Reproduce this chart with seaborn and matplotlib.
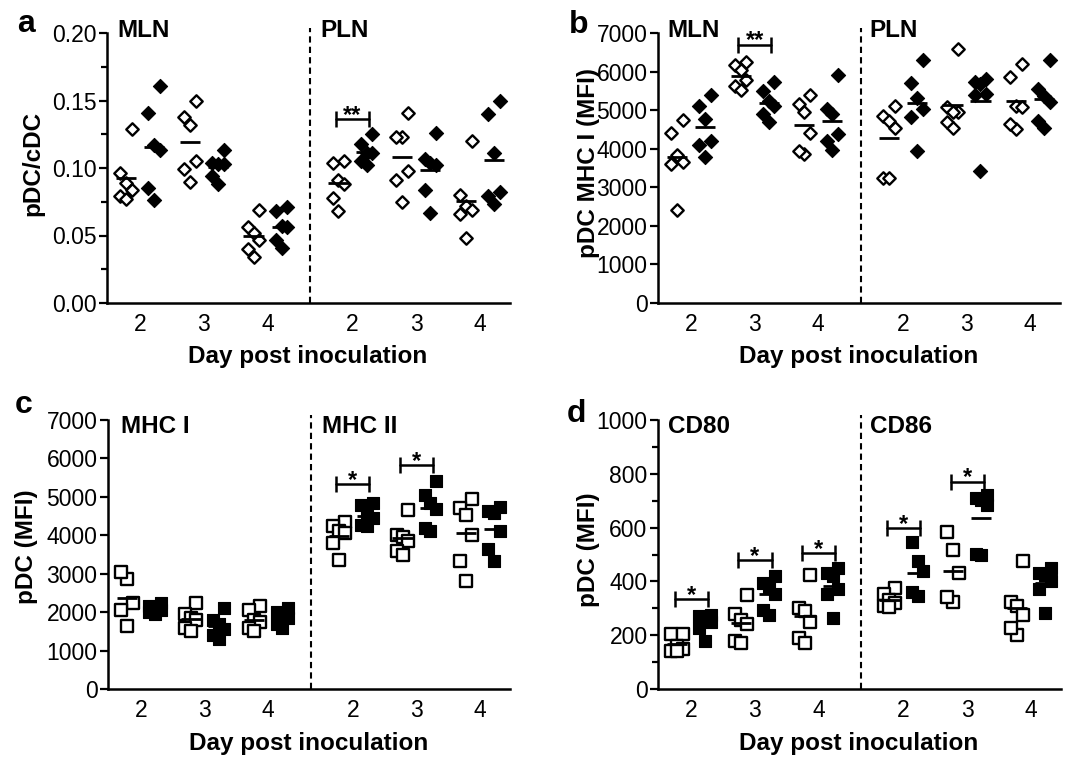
import numpy as np
import pandas as pd
import matplotlib
matplotlib.use('Agg')
import matplotlib.pyplot as plt
import matplotlib.transforms as mtrans
from matplotlib.ticker import MultipleLocator, FormatStrFormatter
import seaborn as sns

sns.set_theme(style='ticks')
plt.rcParams['font.family'] = ['Liberation Sans', 'DejaVu Sans']
plt.rcParams.update({'text.color': 'black', 'axes.labelcolor': 'black',
                     'xtick.color': 'black', 'ytick.color': 'black',
                     'axes.edgecolor': 'black'})

# ---------------- data ----------------
DAY_LABELS = ['2', '3', '4']

# panel a: pDC/cDC
A_TITLES = ['MLN', 'PLN']
A_MLN_OPEN = [[0.096, 0.129, 0.089, 0.084, 0.079, 0.077],
              [0.150, 0.138, 0.132, 0.105, 0.099, 0.090],
              [0.069, 0.056, 0.052, 0.047, 0.040, 0.034]]
A_MLN_FILL = [[0.161, 0.141, 0.117, 0.113, 0.085, 0.076],
              [0.113, 0.104, 0.103, 0.103, 0.094, 0.088],
              [0.071, 0.068, 0.057, 0.056, 0.047, 0.041]]
A_PLN_OPEN = [[0.105, 0.1035, 0.091, 0.088, 0.078, 0.068],
              [0.141, 0.123, 0.123, 0.098, 0.091, 0.075],
              [0.120, 0.080, 0.072, 0.069, 0.066, 0.048]]
A_PLN_FILL = [[0.125, 0.118, 0.111, 0.111, 0.105, 0.102],
              [0.126, 0.107, 0.104, 0.102, 0.084, 0.067],
              [0.150, 0.140, 0.111, 0.082, 0.079, 0.073]]
A_SIG = [(3, 0.136, '**')]

# panel b: pDC MHC I (MFI)
B_TITLES = ['MLN', 'PLN']
B_MLN_OPEN = [[4400, 4750, 3850, 3650, 3600, 2400],
              [6240, 6170, 6030, 5770, 5620, 5510],
              [5400, 5160, 4960, 4400, 3870, 3930]]
B_MLN_FILL = [[5380, 5110, 4780, 4190, 4100, 3780],
              [5730, 5500, 5250, 5100, 4900, 4700],
              [5920, 5030, 4900, 4370, 4190, 3970]]
B_PLN_OPEN = [[5110, 4850, 4720, 4540, 3230, 3230],
              [6590, 4940, 5070, 4960, 4690, 4540],
              [6200, 5860, 5100, 5070, 4500, 4630]]
B_PLN_FILL = [[6300, 5710, 5310, 5040, 4830, 3950],
              [5730, 5820, 5680, 5420, 5380, 3430],
              [6300, 5540, 5360, 5200, 4720, 4540]]
B_SIG = [(1, 6700, '**')]

# panel c: pDC (MFI), MHC I / MHC II
C_TITLES = ['MHC I', 'MHC II']
C_I_OPEN = [[2850, 3050, 2250, 2050, 1650],
            [2250, 1950, 1850, 1800, 1600, 1500],
            [2150, 2050, 1800, 1750, 1600, 1500]]
C_I_FILL = [[2250, 2150, 2100, 2050, 2000, 1950],
            [2100, 1800, 1700, 1550, 1400, 1300],
            [2100, 2000, 1950, 1850, 1700, 1600]]
C_II_OPEN = [[4350, 4250, 4100, 4050, 3800, 3350],
             [4650, 4000, 3950, 3850, 3600, 3500],
             [4940, 4700, 4530, 4010, 3320, 2820]]
C_II_FILL = [[4830, 4790, 4490, 4440, 4270, 4230],
             [5400, 5050, 4830, 4680, 4120, 4180],
             [4730, 4620, 4570, 4100, 3640, 3320]]
C_SIG = [(3, 5330, '*'), (4, 5830, '*')]

# panel d: pDC (MFI), CD80 / CD86
D_TITLES = ['CD80', 'CD86']
D_80_OPEN = [[205, 205, 160, 150, 140, 140],
             [350, 280, 255, 240, 180, 170],
             [425, 300, 290, 250, 190, 170]]
D_80_FILL = [[275, 270, 260, 250, 225, 180],
             [420, 395, 375, 355, 275, 295],
             [450, 430, 420, 370, 355, 265]]
D_86_OPEN = [[375, 355, 330, 320, 310, 305],
             [585, 517, 433, 325, 342],
             [474, 322, 307, 276, 202, 226]]
D_86_FILL = [[545, 475, 440, 360, 345],
             [722, 709, 703, 684, 499, 502],
             [449, 431, 424, 400, 371, 282]]
D_SIG = [(0, 335, '*'), (1, 480, '*'), (2, 505, '*'), (3, 598, '*'), (4, 771, '*')]

# ---------------- layout ----------------
W, H = 1068, 757
POS = [[0.0, 1.0, 2.0], [3.33, 4.33, 5.33]]
FLAT_POS = POS[0] + POS[1]
DIV = 2.67
XLIM = (-0.52, 5.8)
GROUP_OFF = 0.22
JIT = np.array([0.0, -0.09, 0.09])
TICK_FS = 16.5
LAB_FS = 17.5

fig = plt.figure(figsize=(W / 100, H / 100), dpi=100)


def add_axes_px(l, t, r, b):
    return fig.add_axes([l / W, 1 - b / H, (r - l) / W, (b - t) / H])


def build_df(regions):
    rows = []
    for r, (op, fi) in enumerate(regions):
        for d in range(3):
            for grp, vals in (('open', op[d]), ('fill', fi[d])):
                ranks = np.argsort(np.argsort(vals))
                for v, rk in zip(vals, ranks):
                    rows.append(dict(region=r, day=d, group=grp, value=v,
                                     pos=POS[r][d], rank=int(rk)))
    df = pd.DataFrame(rows)
    df['cx'] = df['pos'] + np.where(df['group'] == 'open', -GROUP_OFF, GROUP_OFF)
    df['x'] = df['cx'] + JIT[df['rank'] % 3]
    return df


def draw_panel(ax, df, marker, s_open, s_fill, ylim, ystep, yfmt, minor,
               titles, title_y, title_x, sigs):
    op = df[df['group'] == 'open']
    fi = df[df['group'] == 'fill']
    sns.scatterplot(data=op, x='x', y='value', marker=marker, s=s_open,
                    color='white', edgecolor='black', linewidth=1.7,
                    ax=ax, legend=False, zorder=3, clip_on=False)
    sns.scatterplot(data=fi, x='x', y='value', marker=marker, s=s_fill,
                    color='black', edgecolor='black', linewidth=0.8,
                    ax=ax, legend=False, zorder=3, clip_on=False)
    means = df.groupby(['cx', 'group'])['value'].mean().reset_index()
    ax.hlines(means['value'], means['cx'] - 0.16, means['cx'] + 0.16,
              color='black', lw=2, zorder=4)

    ax.set_xlim(*XLIM)
    ax.set_ylim(*ylim)
    ax.set_xticks(FLAT_POS)
    ax.set_xticklabels(DAY_LABELS * 2)
    ax.yaxis.set_major_locator(MultipleLocator(ystep))
    ax.yaxis.set_major_formatter(FormatStrFormatter(yfmt))
    if minor:
        ax.yaxis.set_minor_locator(MultipleLocator(minor))
    ax.tick_params(axis='x', length=0, pad=7, labelsize=TICK_FS)
    ax.tick_params(axis='y', which='major', length=6, width=1.6, pad=1.5,
                   labelsize=TICK_FS, direction='out')
    ax.tick_params(axis='y', which='minor', length=4, width=1.6, direction='out')
    ax.set_xlabel('')
    ax.set_ylabel('')
    sns.despine(ax=ax)
    for sp in ('left', 'bottom'):
        ax.spines[sp].set_linewidth(1.8)

    blend = mtrans.blended_transform_factory(ax.transData, ax.transAxes)
    ax.plot([DIV, DIV], [0, 1.02], transform=blend, color='black', lw=1.5,
            ls=(0, (3, 2)), clip_on=False)
    for tx, t in zip(title_x, titles):
        ax.text(tx, title_y, t, transform=blend, fontsize=LAB_FS,
                fontweight='bold', va='baseline', ha='left')
    for idx, y, lab in sigs:
        p = FLAT_POS[idx]
        ax.plot([p - 0.26, p + 0.26], [y, y], color='black', lw=1.8,
                marker='|', markersize=12, mew=1.8, zorder=5)
        ax.annotate(lab, (p, y), xytext=(0, -2), textcoords='offset points',
                    ha='center', va='baseline', fontsize=17, fontweight='bold')


axA = add_axes_px(107, 33, 510, 303)
axB = add_axes_px(658, 33, 1060, 303)
axC = add_axes_px(108, 420, 510, 689)
axD = add_axes_px(658, 420, 1061, 689)

dfA = build_df([(A_MLN_OPEN, A_MLN_FILL), (A_PLN_OPEN, A_PLN_FILL)])
dfB = build_df([(B_MLN_OPEN, B_MLN_FILL), (B_PLN_OPEN, B_PLN_FILL)])
dfC = build_df([(C_I_OPEN, C_I_FILL), (C_II_OPEN, C_II_FILL)])
dfD = build_df([(D_80_OPEN, D_80_FILL), (D_86_OPEN, D_86_FILL)])

draw_panel(axA, dfA, 'D', 40, 52, (0, 0.20), 0.05, '%.2f', 0.025,
           A_TITLES, 0.985, [-0.35, 2.82], A_SIG)
draw_panel(axB, dfB, 'D', 40, 52, (0, 7000), 1000, '%d', None,
           B_TITLES, 0.985, [-0.38, 2.81], B_SIG)
draw_panel(axC, dfC, 's', 66, 85, (0, 7000), 1000, '%d', None,
           C_TITLES, 0.952, [-0.32, 2.85], C_SIG)
draw_panel(axD, dfD, 's', 66, 85, (0, 1000), 200, '%d', 100,
           D_TITLES, 0.952, [-0.36, 2.80], D_SIG)

# axis labels
def ftext(x, y, s, **kw):
    fig.text(x / W, 1 - y / H, s, **kw)

for cx, cy in ((308, 363), (859, 363), (309, 750), (859, 750)):
    ftext(cx, cy, 'Day post inoculation', ha='center', va='baseline',
          fontsize=LAB_FS, fontweight='bold')
ftext(33, 163, 'pDC/cDC', rotation=90, ha='center', va='center',
      fontsize=LAB_FS, fontweight='bold')
ftext(588, 163, 'pDC MHC I (MFI)', rotation=90, ha='center', va='center',
      fontsize=LAB_FS, fontweight='bold')
ftext(26, 547, 'pDC (MFI)', rotation=90, ha='center', va='center',
      fontsize=LAB_FS, fontweight='bold')
ftext(588, 550, 'pDC (MFI)', rotation=90, ha='center', va='center',
      fontsize=LAB_FS, fontweight='bold')

for x, y, s in ((17, 32, 'a'), (569, 33, 'b'), (15, 413, 'c'), (567, 422, 'd')):
    ftext(x, y, s, ha='left', va='baseline', fontsize=23, fontweight='bold')

fig.savefig('out.png', dpi=100)
